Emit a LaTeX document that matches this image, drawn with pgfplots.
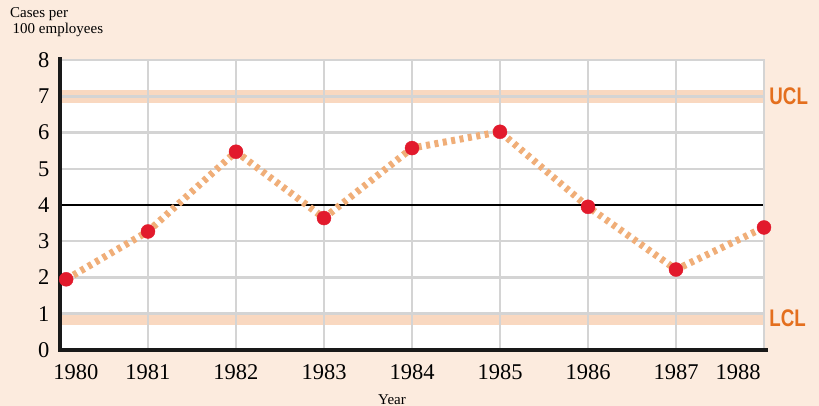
\documentclass[border=0pt]{standalone}
\usepackage{pgfplots}
\pgfplotsset{compat=1.18}
\usepackage{fontspec}
\setmainfont{Liberation Serif}
\newfontfamily\labelsans{Liberation Sans}
\definecolor{bg}{HTML}{FCEBDE}
\definecolor{band}{HTML}{F9D8C0}
\definecolor{gridc}{HTML}{D4D4D4}
\definecolor{lineor}{HTML}{F0AE78}
\definecolor{dotred}{HTML}{E21A2C}
\definecolor{ucl}{HTML}{E46F1E}
\pgfplotsset{
  base/.style={
    at={(0pt,0pt)}, anchor=south west,
    scale only axis, width=704pt, height=290pt,
    xmin=0, xmax=8, ymin=0, ymax=8,
    axis line style={draw=none},
    major tick length=0pt,
    clip=false,
  }
}
\begin{document}
\begin{tikzpicture}
\fill[bg] (-60pt,-56pt) rectangle (759pt,350pt);
% background axis: white plot area and control-limit bands
\begin{axis}[base,
  axis background/.style={fill=white},
  xtick=\empty, ytick=\empty,
]
\addplot[band, line width=13pt] coordinates {(0,7) (8,7)};
\addplot[band, line width=13pt] coordinates {(0,0.87) (8,0.87)};
\end{axis}
% main axis
\begin{axis}[base,
  xtick={0,1,2,3,4,5,6,7,8},
  xticklabels={\hspace*{32pt}1980,1981,1982,1983,1984,1985,1986,1987,1988\hspace*{52pt}},
  ytick={0,1,2,3,4,5,6,7,8},
  grid=major,
  major grid style={draw=gridc, line width=2.5pt},
  /pgf/number format/assume math mode=true,
  ticklabel style={font=\fontsize{22.5}{24}\selectfont},
  xticklabel style={yshift=-11pt},
  yticklabel style={xshift=-7pt},
]
\addplot[black, line width=2.2pt] coordinates {(0,4) (8,4)};
% data (x = year - 1980)
\addplot[lineor, line width=7pt, dash pattern=on 4pt off 4.5pt] coordinates {
  (0.07,1.95) (1,3.27) (2,5.47) (3,3.64) (4,5.57) (5,6.02) (6,3.95) (7,2.22) (8,3.38)};
\addplot[only marks, mark=*, mark size=7pt, dotred, mark options={draw=dotred, fill=dotred}] coordinates {
  (0.07,1.95) (1,3.27) (2,5.47) (3,3.64) (4,5.57) (5,6.02) (6,3.95) (7,2.22) (8,3.38)};
\draw[gridc, line width=2.5pt] (rel axis cs:0,1) -- (rel axis cs:1,1) -- (rel axis cs:1,0);
\draw[black!90, line width=4.5pt] (axis cs:0,8.08) -- (axis cs:0,0) -- (axis cs:8.05,0);
\node[anchor=west, text=ucl, font=\labelsans\bfseries\fontsize{24}{24}\selectfont, inner sep=0pt]
  at (axis cs:8.06,7) {\scalebox{0.78}[1]{UCL}};
\node[anchor=west, text=ucl, font=\labelsans\bfseries\fontsize{24}{24}\selectfont, inner sep=0pt]
  at (axis cs:8.06,0.87) {\scalebox{0.78}[1]{LCL}};
\end{axis}
\node[anchor=north west, align=left, inner sep=0pt, font=\fontsize{15}{16}\selectfont] at (-50pt,343pt) {Cases per\\ \,100 employees};
\node[anchor=north, inner sep=0pt, font=\fontsize{15}{16}\selectfont] at (332pt,-44pt) {Year};
\useasboundingbox (-60pt,-56pt) rectangle (759pt,350pt);
\end{tikzpicture}
\end{document}
